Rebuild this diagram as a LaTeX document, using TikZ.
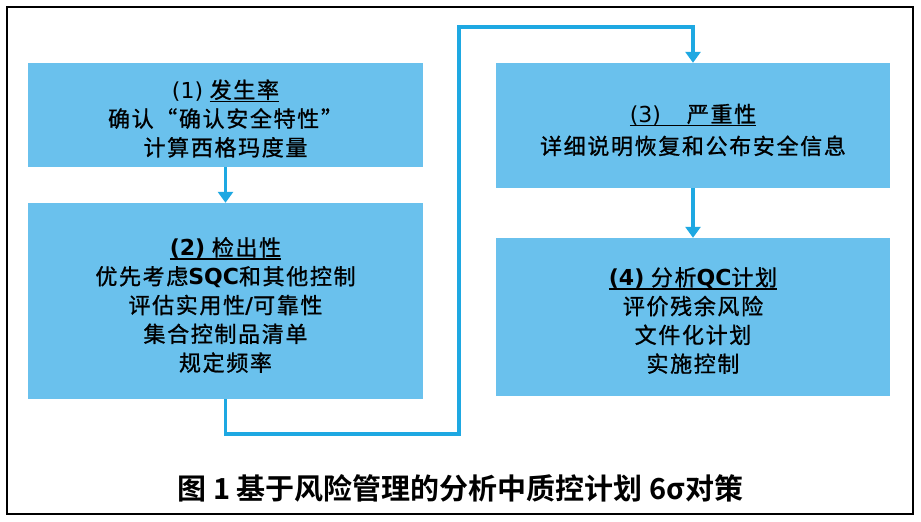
\documentclass[tikz,border=0pt]{standalone}
\usepackage{fontspec}
\usetikzlibrary{arrows.meta}
\setmainfont{DejaVu Sans}
\newfontfamily\cjk[LetterSpace=7.5,FakeBold=1]{Noto Sans CJK SC}
\newfontfamily\cjktitle{Noto Sans CJK SC Bold}
\definecolor{boxblue}{RGB}{106,193,237}
\definecolor{lineblue}{RGB}{30,168,226}
\newcommand\Lt[1]{{\rmfamily #1}}
\newcommand\Lb[1]{{\rmfamily\bfseries #1}}
\newcommand\myul[1]{\setbox0\hbox{#1}\rlap{\rule[-4pt]{\wd0}{1.4pt}}\box0}
\newcommand\nolsk{\lineskiplimit=-100pt\relax}
\newcommand\boxfontA{\fontsize{22}{28.8}\selectfont\cjk\nolsk}
\newcommand\boxfontB{\fontsize{22}{32}\selectfont\cjk\nolsk}
\begin{document}
\begin{tikzpicture}[x=1pt,y=-1pt,
  box/.style={fill=boxblue, inner sep=0pt},
  boxtext/.style={inner sep=0pt, align=center, yshift=-3pt, font=\boxfontA},
  conn/.style={draw=lineblue, line width=3.3pt},
  tipped/.style={-{Triangle[width=15pt,length=11pt]}}]
\useasboundingbox (0,0) rectangle (921,522);
\fill[white] (0,0) rectangle (921,522);
\draw[line width=2pt] (6.5,6.5) rectangle (913,514);

\node[box, minimum width=395pt, minimum height=104pt] (b1) at (225.5,115) {};
\node[box, minimum width=395pt, minimum height=196pt] (b2) at (225.5,301) {};
\node[box, minimum width=394pt, minimum height=125pt] (b3) at (693,125.5) {};
\node[box, minimum width=394pt, minimum height=158pt] (b4) at (693,317) {};

\node[boxtext, yshift=-0.5pt] (t1) at (b1.center)
  {\Lt{(1)} \myul{发生率}\\确认“确认安全特性”\\计算西格玛度量};
\node[boxtext, yshift=-1pt] (t2) at (b2.center)
  {\myul{\Lb{(2)} 检出性}\\优先考虑\Lb{SQC}和其他控制\\评估实用性\Lb{/}可靠性\\集合控制品清单\\规定频率};
\node[boxtext, font=\boxfontB, yshift=-1.5pt] (t3) at (b3.center)
  {\myul{\Lt{(3)}\hspace{26pt}严重性}\\详细说明恢复和公布安全信息};
\node[boxtext, yshift=-0.5pt] (t4) at (b4.center)
  {\myul{\Lb{(4)} 分析\Lb{QC}计划}\\评价残余风险\\文件化计划\\实施控制};

\coordinate (c1) at (459,434);
\coordinate (c2) at (459,27);
\coordinate (c3) at (693,27);

\draw[conn,tipped] (b1) -- (b2);
\draw[conn,tipped] (b3) -- (b4);
\draw[conn,tipped] (b2.south) |- (c1) -- (c2) -- (c3) -- (b3.north);

\node[font=\fontsize{29}{34}\selectfont\cjktitle] (title) at (460.5,488)
  {图 1 基于风险管理的分析中质控计划 6σ对策};
\end{tikzpicture}
\end{document}
